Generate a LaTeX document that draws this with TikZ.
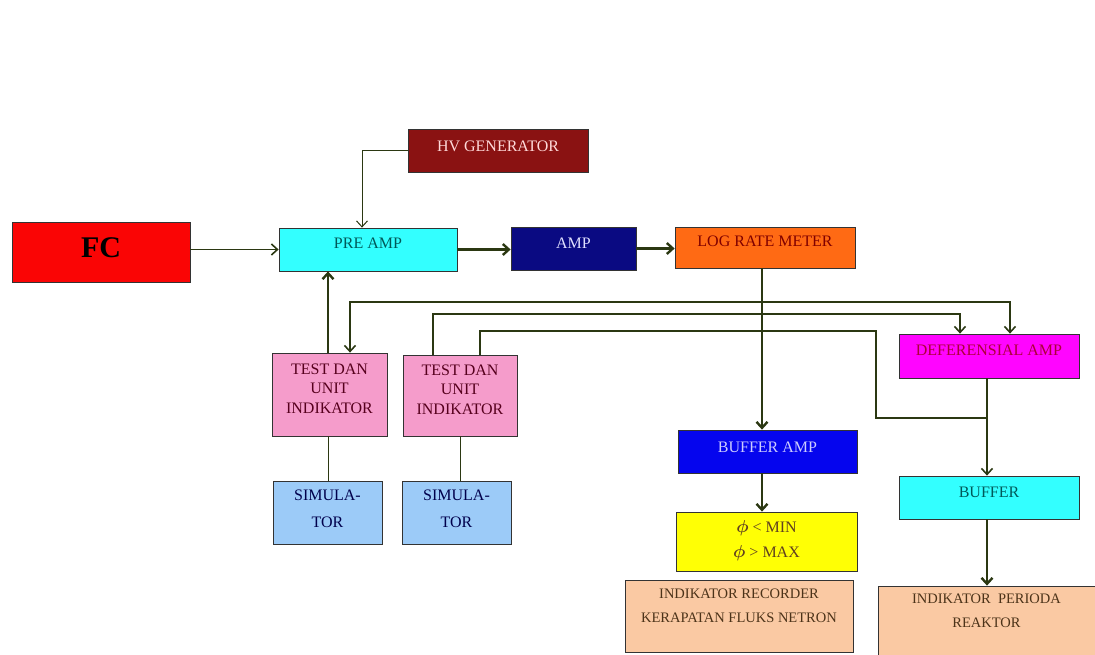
\documentclass[tikz,border=0pt]{standalone}
\usepackage{fontspec}
\setmainfont{Liberation Serif}
\usetikzlibrary{arrows.meta}
\newcommand\liftby[2]{\raisebox{0pt}[\height][\dimexpr\depth+#1\relax]{#2}}
\newcommand\bphi{{\boldmath$\phi$}}
\definecolor{cFC}{HTML}{FA0505}
\definecolor{cHV}{HTML}{8A1212}
\definecolor{cCyan}{HTML}{33FFFF}
\definecolor{cNavy}{HTML}{0A0A82}
\definecolor{cOrange}{HTML}{FF6A14}
\definecolor{cPink}{HTML}{F59CCB}
\definecolor{cSky}{HTML}{9CCBF8}
\definecolor{cBlue}{HTML}{0505EE}
\definecolor{cYellow}{HTML}{FFFF05}
\definecolor{cPeach}{HTML}{FAC9A3}
\definecolor{cMag}{HTML}{FF05FF}
\definecolor{cLine}{HTML}{2B3812}
\definecolor{cBorder}{HTML}{333333}
\begin{document}
\begin{tikzpicture}[x=1pt,y=-1pt,
  box/.style={draw=cBorder, line width=0.8pt, inner sep=2pt, align=center,
    font=\fontsize{16}{19.2}\selectfont},
  small/.style={font=\fontsize{14.5}{17.4}\selectfont},
  conn/.style={draw=cLine, line width=1.6pt},
  thin/.style={draw=cLine, line width=1pt},
  thick/.style={draw=cLine, line width=2.4pt},
  arr/.style={-{Straight Barb[length=6pt,width=11pt]}},
  barr/.style={{Straight Barb[length=6pt,width=11pt]}-{Straight Barb[length=6pt,width=11pt]}}]
\fill[white] (0,0) rectangle (1095,654);
\useasboundingbox (0,0) rectangle (1095,654);

% boxes
\node[box, fill=cFC, minimum width=178pt, minimum height=60pt,
  font=\fontsize{30}{34}\selectfont\bfseries, text=black] (fc) at (101,252) {\liftby{8pt}{FC}};
\node[box, fill=cHV, minimum width=180pt, minimum height=43pt, text=white!85!red] (hv) at (498,150.5) {\liftby{9pt}{HV GENERATOR}};
\node[box, fill=cCyan, minimum width=178pt, minimum height=43pt, text=teal!70!black] (preamp) at (368,249.5) {\liftby{12pt}{PRE AMP}};
\node[box, fill=cNavy, minimum width=125pt, minimum height=43pt, text=white!88!blue] (amp) at (573.5,248.5) {\liftby{11pt}{AMP}};
\node[box, fill=cOrange, minimum width=180pt, minimum height=41pt, text=red!50!black] (log) at (765,247.5) {\liftby{12pt}{LOG RATE METER}};
\node[box, fill=cPink, minimum width=115pt, minimum height=83pt, text=purple!45!black] (test1) at (329.5,394.5)
  {\liftby{9pt}{\begin{tabular}{@{}c@{}}TEST DAN\\UNIT\\INDIKATOR\end{tabular}}};
\node[box, fill=cPink, minimum width=114pt, minimum height=81pt, text=purple!45!black] (test2) at (460,395.5)
  {\liftby{9pt}{\begin{tabular}{@{}c@{}}TEST DAN\\UNIT\\INDIKATOR\end{tabular}}};
\node[box, fill=cSky, minimum width=109pt, minimum height=63pt, text=blue!30!black] (sim1) at (327.5,512.5)
  {\liftby{4pt}{\begin{tabular}{@{}c@{}}SIMULA-\\[8pt]TOR\end{tabular}}};
\node[box, fill=cSky, minimum width=109pt, minimum height=63pt, text=blue!30!black] (sim2) at (456.5,512.5)
  {\liftby{4pt}{\begin{tabular}{@{}c@{}}SIMULA-\\[8pt]TOR\end{tabular}}};
\node[box, fill=cBlue, minimum width=179pt, minimum height=43pt, text=white!80!blue] (bufamp) at (767.5,451.5) {\liftby{8pt}{BUFFER AMP}};
\node[box, fill=cYellow, minimum width=181pt, minimum height=59pt, text=brown!50!black] (phi) at (766.5,541.5)
  {\begin{tabular}{@{}c@{}}\bphi\ < MIN\\[6pt]\bphi\ > MAX\end{tabular}};
\node[box, small, fill=cPeach, minimum width=228pt, minimum height=72pt, text=brown!40!black] (indrec) at (739,616)
  {\liftby{18pt}{\begin{tabular}{@{}c@{}}INDIKATOR RECORDER\\[7.5pt]KERAPATAN FLUKS NETRON\end{tabular}}};
\node[box, fill=cMag, minimum width=180pt, minimum height=44pt, text=purple!90!black] (def) at (989,356) {\liftby{12pt}{DEFERENSIAL AMP}};
\node[box, fill=cCyan, minimum width=180pt, minimum height=43pt, text=teal!70!black] (buffer) at (989,497.5) {\liftby{10pt}{BUFFER}};
\node[box, small, fill=cPeach, minimum width=217pt, minimum height=70pt, text=brown!40!black] (indper) at (986.5,621)
  {\liftby{18pt}{\begin{tabular}{@{}c@{}}INDIKATOR\ \ PERIODA\\[7.5pt]REAKTOR\end{tabular}}};

% junction coordinates
\coordinate (j1) at (1010,302);
\coordinate (j2) at (960,314);
\coordinate (j3) at (876,331);
\coordinate (j4) at (987,418);

% connectors
\draw[conn, arr] (preamp.west -| fc.east) -- (preamp.west);
\draw[thin, arr] (hv.west) -| ([xshift=-6pt]preamp.north);
\draw[thick, arr] (preamp.east) -- (preamp.east -| amp.west);
\draw[thick, arr] (amp.east) -- (amp.east -| log.west);
\draw[thick, arr] ([xshift=-3pt]log.south) -- ([xshift=-3pt]log.south |- bufamp.north);
\draw[thick, arr] ([xshift=-5.5pt]bufamp.south) -- ([xshift=-5.5pt]bufamp.south |- phi.north);
\draw[thick, arr] ([xshift=-1.5pt]test1.north) -- ([xshift=-1.5pt]test1.north |- preamp.south);
\draw[conn, barr] ([xshift=20.5pt]test1.north) |- (j1) -- (j1 |- def.north);
\draw[conn, arr] ([xshift=-27pt]test2.north) |- (j2) -- (j2 |- def.north);
\draw[conn] ([xshift=20pt]test2.north) |- (j3) |- (j4);
\draw[conn, arr] (j4 |- def.south) -- (j4 |- buffer.north);
\draw[thick, arr] (j4 |- buffer.south) -- (j4 |- indper.north);
\draw[thin] ([xshift=-1.5pt]test1.south) -- ([xshift=-1.5pt]test1.south |- sim1.north);
\draw[thin] (test2.south) -- (test2.south |- sim2.north);
\end{tikzpicture}
\end{document}
